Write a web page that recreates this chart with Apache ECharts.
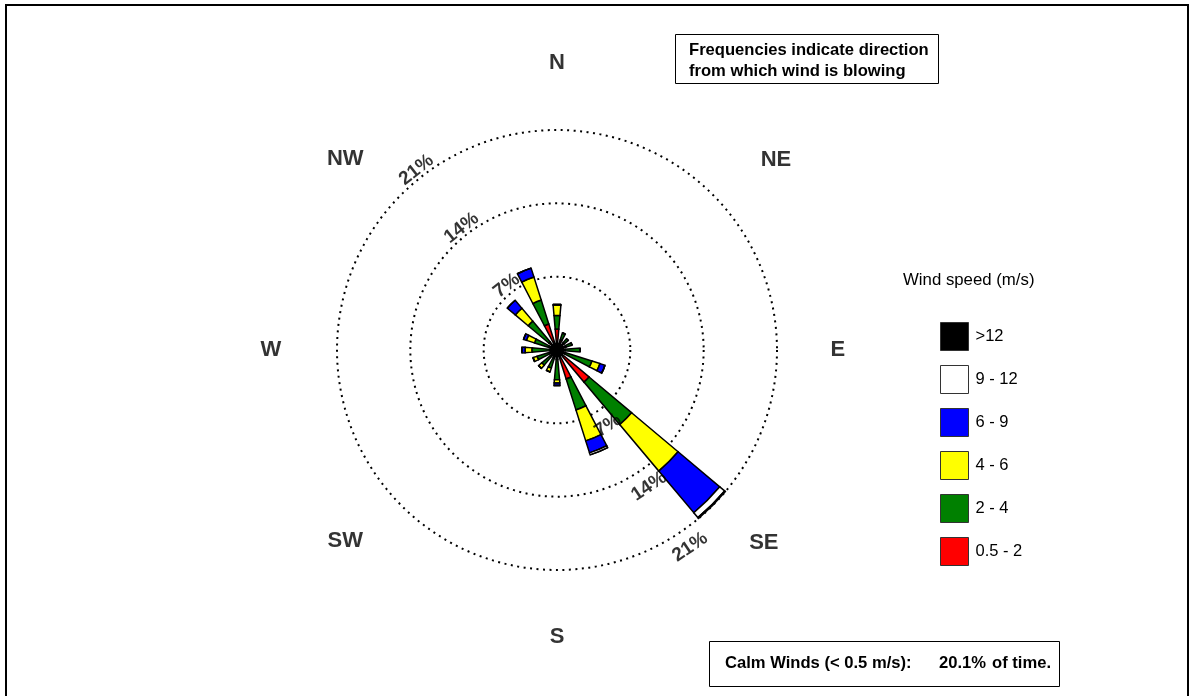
<!DOCTYPE html>
<html>
<head>
<meta charset="utf-8">
<script src="https://cdn.jsdelivr.net/npm/echarts@6/dist/echarts.min.js"></script>
<style>
  html, body { margin: 0; padding: 0; background: #ffffff; }
  #chart { width: 1190px; height: 696px; }
</style>
</head>
<body>
<div id="chart"></div>
<script>
// Compass sectors, clockwise from north
const directions = ['N', 'NNE', 'NE', 'ENE', 'E', 'ESE', 'SE', 'SSE', 'S', 'SSW', 'SW', 'WSW', 'W', 'WNW', 'NW', 'NNW'];

// Wind speed classes (m/s), innermost first
const speedBins = ['0.5 - 2', '2 - 4', '4 - 6', '6 - 9', '9 - 12', '>12'];
const binColors = ['#ff0000', '#008000', '#ffff00', '#0000ff', '#ffffff', '#000000'];

// Frequency (% of time) by direction for each speed class
const freq0p5to2 = [2.0, 1.0, 0.9, 0.9, 0.8, 0.8, 4.0, 2.9, 0.9, 0.8, 0.8, 0.8, 0.7, 0.8, 1.0, 2.6];
const freq2to4   = [1.3, 0.7, 0.5, 0.6, 1.4, 2.7, 5.3, 3.1, 1.95, 1.0, 1.1, 1.2, 1.7, 1.45, 2.6, 2.4];
const freq4to6   = [1.0, 0, 0, 0, 0, 0.8, 5.8, 3.1, 0.3, 0.4, 0.4, 0.4, 0.65, 0.8, 1.6, 2.3];
const freq6to9   = [0.05, 0, 0, 0, 0, 0.5, 5.2, 1.2, 0.25, 0, 0, 0, 0.3, 0.3, 1.0, 0.9];
const freq9to12  = [0, 0, 0, 0, 0, 0, 0.6, 0.2, 0, 0, 0, 0, 0, 0, 0, 0];
const freqOver12 = [0, 0, 0, 0, 0, 0, 0.12, 0, 0, 0, 0, 0, 0, 0, 0, 0];
const binData = [freq0p5to2, freq2to4, freq4to6, freq6to9, freq9to12, freqOver12];

// Frequency rings (%)
const ringTicks = [7, 14, 21];

// Share of calm observations (%)
const calmPercent = 20.1;

const FONT = "'Liberation Sans', Arial, Helvetica, sans-serif";
const CENTER = [557, 350];
const RADIUS = 220;

// Compass point labels: [radius in %, bearing in degrees]
const compassLabels = [
  ['N', 27.4, 0], ['NE', 27.7, 49], ['E', 26.8, 90], ['SE', 27.0, 133],
  ['S', 27.4, 180], ['SW', 27.2, 228], ['W', 27.3, 270], ['NW', 27.2, 312]
];

// Ring labels drawn on both sides of the rose, turned along the ring
const ringLabelItems = [];
ringTicks.forEach(function (t) {
  ringLabelItems.push({ name: t + '%', value: [t + 0.8, 322], label: { rotate: 38 } });
  ringLabelItems.push({ name: t + '%', value: [t + 1.7, 146], label: { rotate: 34 } });
});

const chart = echarts.init(document.getElementById('chart'), null, { renderer: 'canvas' });

const barSeries = speedBins.map(function (name, i) {
  return {
    type: 'bar',
    name: name,
    coordinateSystem: 'polar',
    polarIndex: 0,
    stack: 'rose',
    barWidth: '44%',
    data: binData[i],
    silent: true,
    itemStyle: { color: binColors[i], borderColor: '#000', borderWidth: 1.5 },
    z: 3
  };
});

const option = {
  backgroundColor: '#ffffff',
  animation: false,
  textStyle: { fontFamily: FONT },
  polar: [
    { center: CENTER, radius: RADIUS },
    { center: CENTER, radius: RADIUS }
  ],
  angleAxis: [
    {
      polarIndex: 0,
      type: 'category',
      data: directions,
      startAngle: 90 + 360 / directions.length / 2,
      clockwise: true,
      boundaryGap: true,
      axisLine: { show: false },
      axisTick: { show: false },
      axisLabel: { show: false },
      splitLine: { show: false },
      splitArea: { show: false }
    },
    {
      polarIndex: 1,
      type: 'value',
      min: 0,
      max: 360,
      startAngle: 90,
      clockwise: true,
      axisLine: { show: false },
      axisTick: { show: false },
      axisLabel: { show: false },
      splitLine: { show: false },
      splitArea: { show: false }
    }
  ],
  radiusAxis: [
    {
      polarIndex: 0,
      type: 'value',
      min: 0,
      max: 21,
      interval: 7,
      axisLine: { show: false },
      axisTick: { show: false },
      axisLabel: { show: false },
      splitArea: { show: false },
      splitLine: { show: true, lineStyle: { color: '#000', width: 2, type: [2, 4.5] } }
    },
    {
      polarIndex: 1,
      type: 'value',
      min: 0,
      max: 21,
      axisLine: { show: false },
      axisTick: { show: false },
      axisLabel: { show: false },
      splitArea: { show: false },
      splitLine: { show: false }
    }
  ],
  legend: {
    data: speedBins.slice().reverse(),
    orient: 'vertical',
    left: 935,
    top: 317,
    icon: 'rect',
    itemWidth: 28,
    itemHeight: 28,
    itemGap: 14,
    selectedMode: false,
    itemStyle: { borderColor: '#333', borderWidth: 1 },
    textStyle: { fontSize: 16.5, color: '#000', fontFamily: FONT, padding: [0, 0, 0, 2] }
  },
  series: barSeries.concat([
    {
      type: 'scatter',
      coordinateSystem: 'polar',
      polarIndex: 1,
      clip: false,
      silent: true,
      symbolSize: 1,
      itemStyle: { color: 'rgba(0,0,0,0)' },
      data: ringLabelItems,
      z: 5,
      label: {
        show: true,
        position: 'inside',
        formatter: '{b}',
        fontSize: 19,
        fontWeight: 'bold',
        color: '#000',
        fontFamily: FONT
      }
    },
    {
      type: 'scatter',
      coordinateSystem: 'polar',
      polarIndex: 1,
      clip: false,
      silent: true,
      symbolSize: 1,
      itemStyle: { color: 'rgba(0,0,0,0)' },
      data: compassLabels.map(function (c) { return { name: c[0], value: [c[1], c[2]] }; }),
      z: 5,
      label: {
        show: true,
        position: 'inside',
        formatter: '{b}',
        fontSize: 22,
        fontWeight: 'bold',
        color: '#000',
        fontFamily: FONT
      }
    }
  ]),
  graphic: [
    {
      type: 'rect',
      shape: { x: 6, y: 5, width: 1182, height: 700 },
      style: { fill: 'none', stroke: '#000', lineWidth: 2 },
      silent: true
    },
    {
      // solid hub where the petals meet
      type: 'circle',
      shape: { cx: CENTER[0], cy: CENTER[1], r: 7.5 },
      style: { fill: '#000' },
      z: 100,
      silent: true
    },
    {
      type: 'rect',
      shape: { x: 675.5, y: 34.5, width: 263, height: 49 },
      style: { fill: '#fff', stroke: '#000', lineWidth: 1 },
      silent: true
    },
    {
      type: 'text',
      x: 689, y: 50.5,
      style: { text: 'Frequencies indicate direction', font: 'bold 16.6px ' + FONT, fill: '#000', textVerticalAlign: 'middle' },
      silent: true
    },
    {
      type: 'text',
      x: 689, y: 71,
      style: { text: 'from which wind is blowing', font: 'bold 16.6px ' + FONT, fill: '#000', textVerticalAlign: 'middle' },
      silent: true
    },
    {
      type: 'text',
      x: 903, y: 280,
      style: { text: 'Wind speed (m/s)', font: '16.8px ' + FONT, fill: '#000', textVerticalAlign: 'middle' },
      silent: true
    },
    {
      type: 'rect',
      shape: { x: 709.5, y: 641.5, width: 350, height: 45 },
      style: { fill: '#fff', stroke: '#000', lineWidth: 1 },
      silent: true
    },
    {
      type: 'text',
      x: 725, y: 663,
      style: { text: 'Calm Winds (< 0.5 m/s):', font: 'bold 16.6px ' + FONT, fill: '#000', textVerticalAlign: 'middle' },
      silent: true
    },
    {
      type: 'text',
      x: 939, y: 663,
      style: { text: calmPercent.toFixed(1) + '%', font: 'bold 16.6px ' + FONT, fill: '#000', textVerticalAlign: 'middle' },
      silent: true
    },
    {
      type: 'text',
      x: 992, y: 663,
      style: { text: 'of time.', font: 'bold 16.6px ' + FONT, fill: '#000', textVerticalAlign: 'middle' },
      silent: true
    }
  ]
};

chart.setOption(option);
</script>
</body>
</html>
